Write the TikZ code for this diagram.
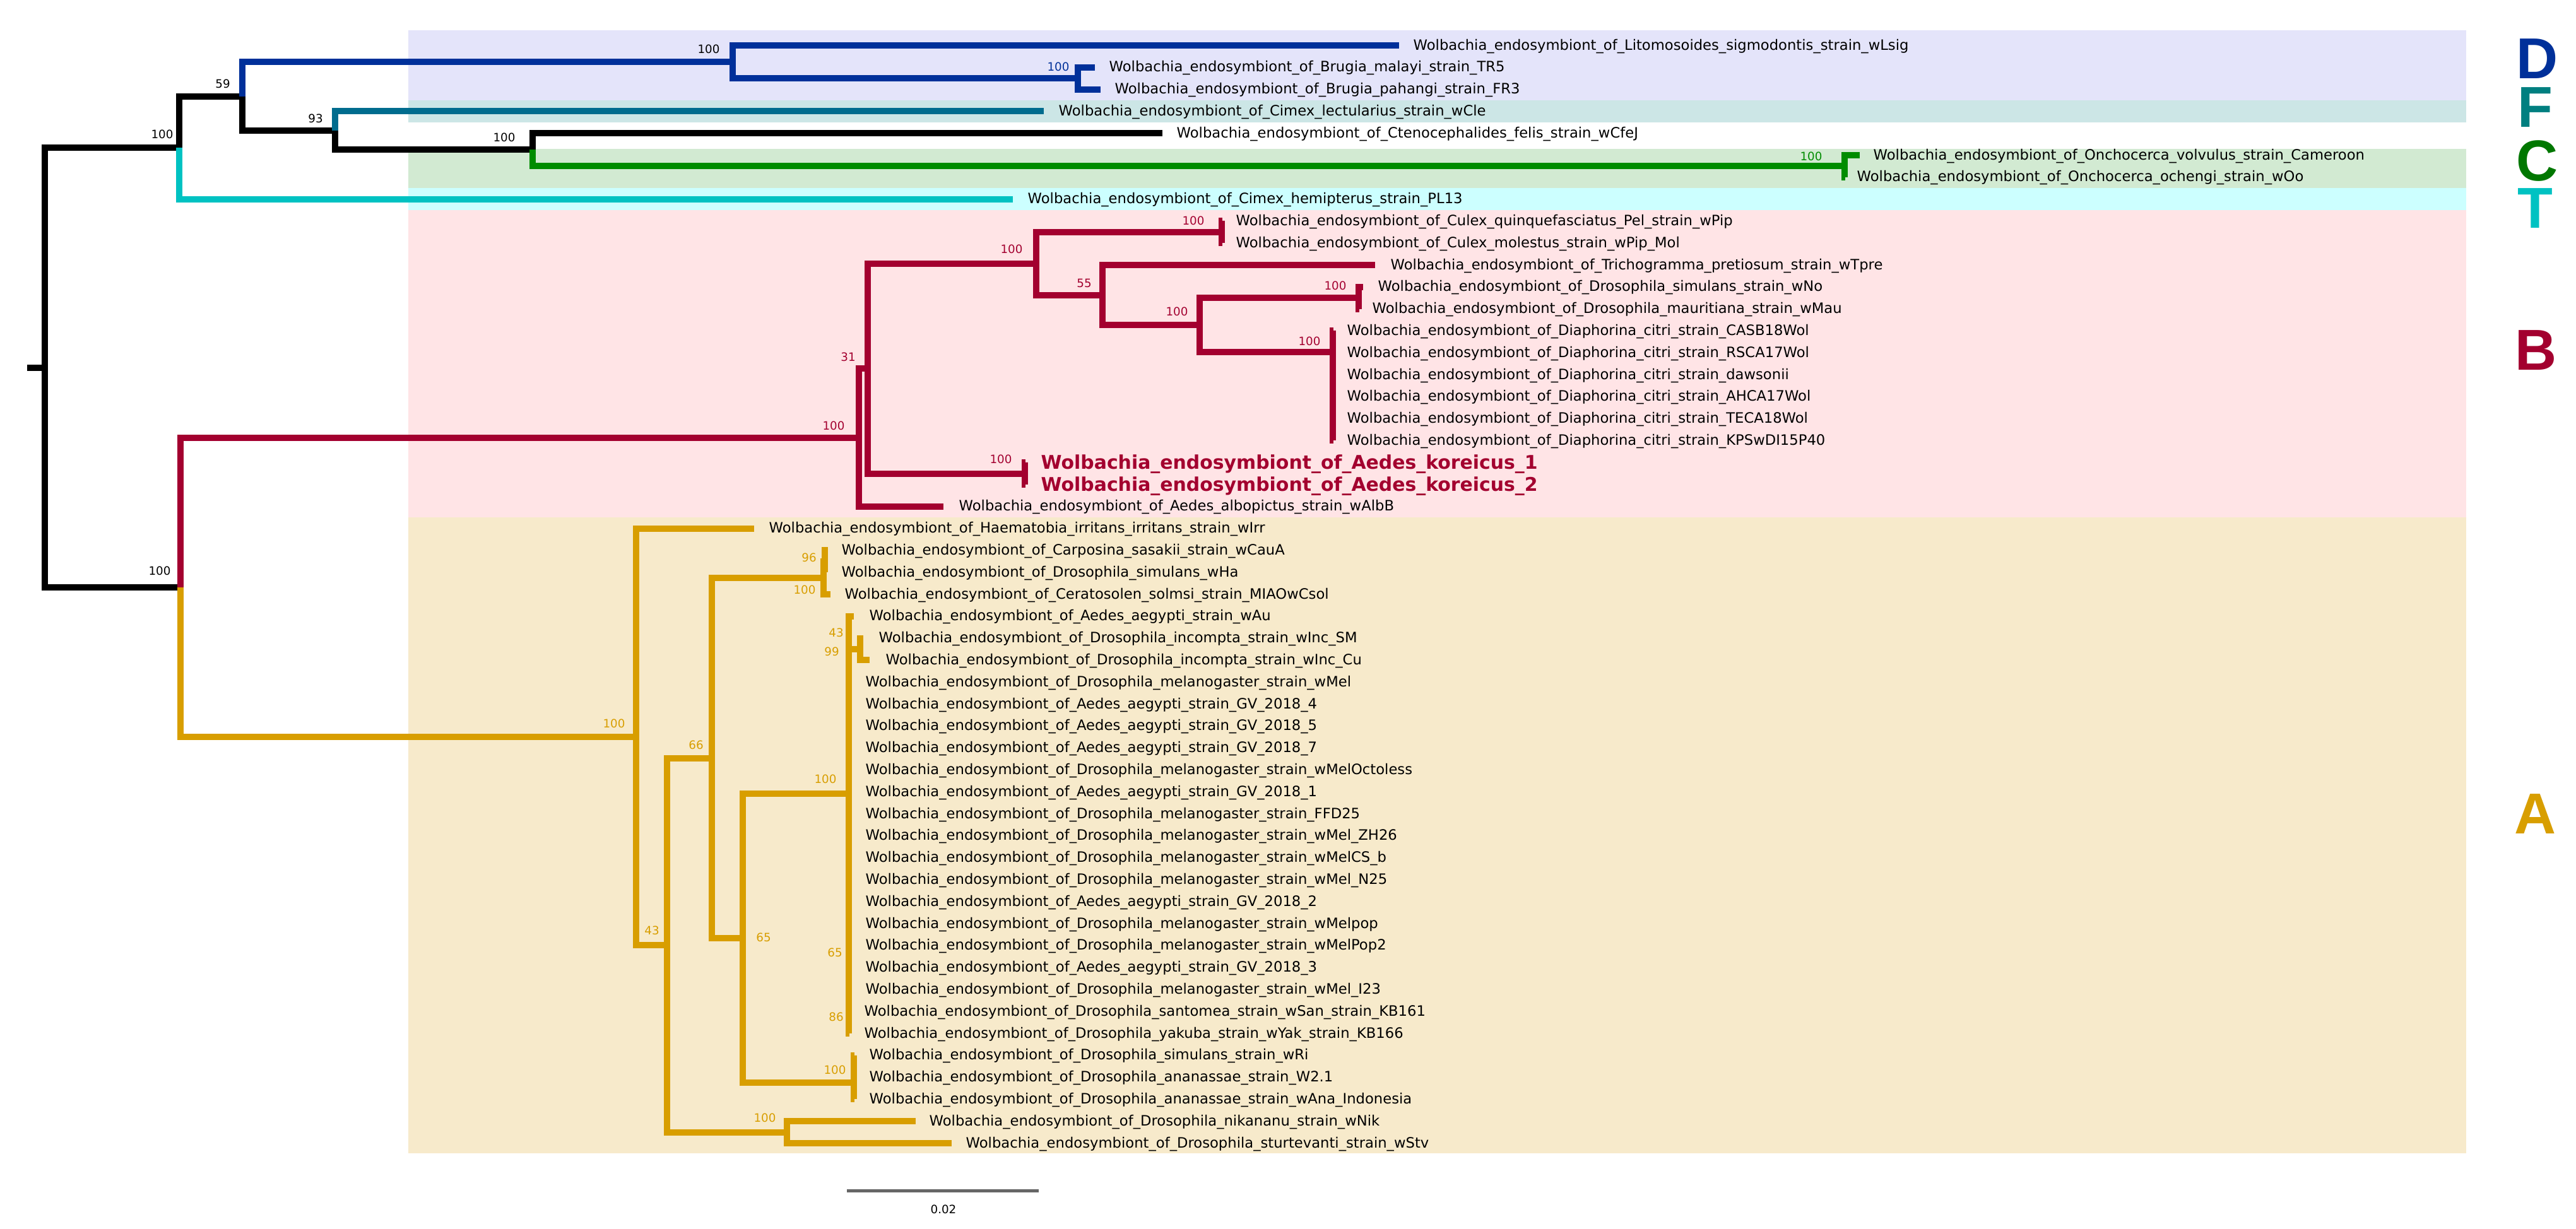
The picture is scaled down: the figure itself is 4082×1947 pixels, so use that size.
\documentclass[tikz,border=0pt]{standalone}
\usepackage{fontspec}
\setmainfont{DejaVu Sans}
\newfontfamily\letterfont{Liberation Sans}
\definecolor{cD}{HTML}{00309A}
\definecolor{cF}{HTML}{006C8E}
\definecolor{cFl}{HTML}{007F80}
\definecolor{cC}{HTML}{008C00}
\definecolor{cCl}{HTML}{007700}
\definecolor{cT}{HTML}{00C2C2}
\definecolor{cB}{HTML}{A3002F}
\definecolor{cA}{HTML}{D89E00}
\definecolor{bgD}{HTML}{E4E4FA}
\definecolor{bgF}{HTML}{CCE6E6}
\definecolor{bgC}{HTML}{D2EAD2}
\definecolor{bgT}{HTML}{CCFFFF}
\definecolor{bgB}{HTML}{FFE4E6}
\definecolor{bgA}{HTML}{F7EACB}
\newcommand\ty[1]{72+34.8*(#1-1)}
\newcommand\wpre{Wolbachia\_endosymbiont\_of\_}
\begin{document}
\begin{tikzpicture}[x=0.01cm,y=-0.01cm,
  br/.style={line width=0.1cm,line join=miter},
  taxon/.style={anchor=base west,inner sep=0pt,font=\fontsize{6.45}{7}\selectfont},
  kor/.style={anchor=base west,inner sep=0pt,font=\fontsize{8.5}{10}\selectfont\bfseries,text=cB},
  bsv/.style={inner sep=0pt,font=\fontsize{5.2}{6}\selectfont},
  clade/.style={inner sep=0pt,font=\letterfont\fontsize{26}{30}\selectfont\bfseries}]
\useasboundingbox (0,0) rectangle (4082,1947);
\fill[white] (0,0) rectangle (4082,1947);
% clade bands
\fill[bgD] (647,48) rectangle (3908,159);
\fill[bgF] (647,159) rectangle (3908,194);
\fill[bgC] (647,236) rectangle (3908,298);
\fill[bgT] (647,298) rectangle (3908,333);
\fill[bgB] (647,333) rectangle (3908,820);
\fill[bgA] (647,820) rectangle (3908,1828);
% internal nodes
\coordinate (rs) at (43,582.5);
\coordinate (root) at (71,582.5);
\coordinate (n1) at (284,234);
\coordinate (n2) at (384,152.5);
\coordinate (nD) at (1161,98.1);
\coordinate (nBru) at (1708,124.2);
\coordinate (n3) at (531,206.9);
\coordinate (n4) at (844,237.3);
\coordinate (nOn) at (2923,263.4);
\coordinate (n5) at (286,930.7);
\coordinate (nB0) at (1361,693.5);
\coordinate (nB1) at (1375,584.1);
\coordinate (nB2) at (1642,417.7);
\coordinate (nCu) at (1936,367.8);
\coordinate (nB3) at (1747,467.5);
\coordinate (nB4) at (1901,515.1);
\coordinate (nNo) at (2153,472.2);
\coordinate (nDia) at (2112,558);
\coordinate (nKo) at (1624,750.6);
\coordinate (nA0) at (1008,1167.8);
\coordinate (nA1) at (1057,1498);
\coordinate (nA2) at (1128,1201.5);
\coordinate (nA3) at (1305,915.9);
\coordinate (nA3b) at (1307,889.8);
\coordinate (nA4) at (1177,1487);
\coordinate (nA5) at (1345,1258);
\coordinate (nInc) at (1363,1029);
\coordinate (nA6) at (1353,1716.3);
\coordinate (nA7) at (1247,1794.6);
% tip ends
\coordinate (e1) at (2217,{\ty{1}});
\coordinate (e2) at (1735,{\ty{2}});
\coordinate (e3) at (1744,{\ty{3}});
\coordinate (e4) at (1654,{\ty{4}});
\coordinate (e5) at (1842,{\ty{5}});
\coordinate (e6) at (2947,{\ty{6}});
\coordinate (e7) at (2924,{\ty{7}});
\coordinate (e8) at (1605,{\ty{8}});
\coordinate (e9) at (1937,{\ty{9}});
\coordinate (e10) at (1937,{\ty{10}});
\coordinate (e11) at (2179,{\ty{11}});
\coordinate (e12) at (2160,{\ty{12}});
\coordinate (e13) at (2154,{\ty{13}});
\coordinate (e14) at (2113,{\ty{14}});
\coordinate (e19) at (2113,{\ty{19}});
\coordinate (e20) at (1625,{\ty{20}});
\coordinate (e21) at (1625,{\ty{21}});
\coordinate (e22) at (1495,{\ty{22}});
\coordinate (e23) at (1195,{\ty{23}});
\coordinate (e24) at (1312,{\ty{24}});
\coordinate (e25) at (1308,{\ty{25}});
\coordinate (e26) at (1316,{\ty{26}});
\coordinate (e27) at (1353,{\ty{27}});
\coordinate (e28) at (1368,{\ty{28}});
\coordinate (e29) at (1378,{\ty{29}});
\coordinate (e46) at (1346,{\ty{46}});
\coordinate (e47) at (1354,{\ty{47}});
\coordinate (e49) at (1354,{\ty{49}});
\coordinate (e50) at (1451,{\ty{50}});
\coordinate (e51) at (1508,{\ty{51}});
% branches: root and top clades
\draw[br] (rs) -- (root);
\draw[br] (root) |- (n1);
\draw[br] (root) |- (n5);
\draw[br] (n1) |- (n2);
\draw[br,cT] (n1) |- (e8);
\draw[br,cD] (n2) |- (nD);
\draw[br] (n2) |- (n3);
\draw[br,cD] (nD) |- (e1);
\draw[br,cD] (nD) |- (nBru);
\draw[br,cD] (nBru) |- (e2);
\draw[br,cD] (nBru) |- (e3);
\draw[br,cF] (n3) |- (e4);
\draw[br] (n3) |- (n4);
\draw[br] (n4) |- (e5);
\draw[br,cC] (n4) |- (nOn);
\draw[br,cC] (nOn) |- (e6);
\draw[br,cC] (nOn) |- (e7);
\draw[br,cB] (n5) |- (nB0);
\draw[br,cA] (n5) |- (nA0);
% B clade
\draw[br,cB] (nB0) |- (nB1);
\draw[br,cB] (nB0) |- (e22);
\draw[br,cB] (nB1) |- (nB2);
\draw[br,cB] (nB1) |- (nKo);
\draw[br,cB] (nB2) |- (nCu);
\draw[br,cB] (nB2) |- (nB3);
\draw[br,cB] (nCu) |- (e9);
\draw[br,cB] (nCu) |- (e10);
\draw[br,cB] (nB3) |- (e11);
\draw[br,cB] (nB3) |- (nB4);
\draw[br,cB] (nB4) |- (nNo);
\draw[br,cB] (nB4) |- (nDia);
\draw[br,cB] (nNo) |- (e12);
\draw[br,cB] (nNo) |- (e13);
\draw[br,cB] (nDia) |- (e14);
\draw[br,cB] (nDia) |- (e19);
\draw[br,cB] (nKo) |- (e20);
\draw[br,cB] (nKo) |- (e21);
% A clade
\draw[br,cA] (nA0) |- (e23);
\draw[br,cA] (nA0) |- (nA1);
\draw[br,cA] (nA1) |- (nA2);
\draw[br,cA] (nA1) |- (nA7);
\draw[br,cA] (nA2) |- (nA3);
\draw[br,cA] (nA2) |- (nA4);
\draw[br,cA] (nA3) |- (nA3b);
\draw[br,cA] (nA3) |- (e26);
\draw[br,cA] (nA3b) |- (e24);
\draw[br,cA] (nA3b) |- (e25);
\draw[br,cA] (nA4) |- (nA5);
\draw[br,cA] (nA4) |- (nA6);
\draw[br,cA] (nA5) |- (e27);
\draw[br,cA] (nA5) |- (nInc);
\draw[br,cA] (nA5) |- (e46);
\draw[br,cA] (nInc) |- (e28);
\draw[br,cA] (nInc) |- (e29);
\draw[br,cA] (nA6) |- (e47);
\draw[br,cA] (nA6) |- (e49);
\draw[br,cA] (nA7) |- (e50);
\draw[br,cA] (nA7) |- (e51);
% tip labels
\node[taxon] (L1) at (2239,{\ty{1}+7}) {\wpre Litomosoides\_sigmodontis\_strain\_wLsig};
\node[taxon] (L2) at (1757,{\ty{2}+7}) {\wpre Brugia\_malayi\_strain\_TR5};
\node[taxon] (L3) at (1766,{\ty{3}+7}) {\wpre Brugia\_pahangi\_strain\_FR3};
\node[taxon] (L4) at (1677,{\ty{4}+7}) {\wpre Cimex\_lectularius\_strain\_wCle};
\node[taxon] (L5) at (1864,{\ty{5}+7}) {\wpre Ctenocephalides\_felis\_strain\_wCfeJ};
\node[taxon] (L6) at (2968,{\ty{6}+7}) {\wpre Onchocerca\_volvulus\_strain\_Cameroon};
\node[taxon] (L7) at (2942,{\ty{7}+7}) {\wpre Onchocerca\_ochengi\_strain\_wOo};
\node[taxon] (L8) at (1628,{\ty{8}+7}) {\wpre Cimex\_hemipterus\_strain\_PL13};
\node[taxon] (L9) at (1958,{\ty{9}+7}) {\wpre Culex\_quinquefasciatus\_Pel\_strain\_wPip};
\node[taxon] (L10) at (1958,{\ty{10}+7}) {\wpre Culex\_molestus\_strain\_wPip\_Mol};
\node[taxon] (L11) at (2203,{\ty{11}+7}) {\wpre Trichogramma\_pretiosum\_strain\_wTpre};
\node[taxon] (L12) at (2183,{\ty{12}+7}) {\wpre Drosophila\_simulans\_strain\_wNo};
\node[taxon] (L13) at (2174,{\ty{13}+7}) {\wpre Drosophila\_mauritiana\_strain\_wMau};
\node[taxon] (L14) at (2134,{\ty{14}+7}) {\wpre Diaphorina\_citri\_strain\_CASB18Wol};
\node[taxon] (L15) at (2134,{\ty{15}+7}) {\wpre Diaphorina\_citri\_strain\_RSCA17Wol};
\node[taxon] (L16) at (2134,{\ty{16}+7}) {\wpre Diaphorina\_citri\_strain\_dawsonii};
\node[taxon] (L17) at (2134,{\ty{17}+7}) {\wpre Diaphorina\_citri\_strain\_AHCA17Wol};
\node[taxon] (L18) at (2134,{\ty{18}+7}) {\wpre Diaphorina\_citri\_strain\_TECA18Wol};
\node[taxon] (L19) at (2134,{\ty{19}+7}) {\wpre Diaphorina\_citri\_strain\_KPSwDI15P40};
\node[kor] (L20) at (1649,{\ty{20}+10}) {\wpre Aedes\_koreicus\_1};
\node[kor] (L21) at (1649,{\ty{21}+10}) {\wpre Aedes\_koreicus\_2};
\node[taxon] (L22) at (1519,{\ty{22}+7}) {\wpre Aedes\_albopictus\_strain\_wAlbB};
\node[taxon] (L23) at (1218,{\ty{23}+7}) {\wpre Haematobia\_irritans\_irritans\_strain\_wIrr};
\node[taxon] (L24) at (1333,{\ty{24}+7}) {\wpre Carposina\_sasakii\_strain\_wCauA};
\node[taxon] (L25) at (1333,{\ty{25}+7}) {\wpre Drosophila\_simulans\_wHa};
\node[taxon] (L26) at (1338,{\ty{26}+7}) {\wpre Ceratosolen\_solmsi\_strain\_MIAOwCsol};
\node[taxon] (L27) at (1377,{\ty{27}+7}) {\wpre Aedes\_aegypti\_strain\_wAu};
\node[taxon] (L28) at (1392,{\ty{28}+7}) {\wpre Drosophila\_incompta\_strain\_wInc\_SM};
\node[taxon] (L29) at (1403,{\ty{29}+7}) {\wpre Drosophila\_incompta\_strain\_wInc\_Cu};
\node[taxon] (L30) at (1371,{\ty{30}+7}) {\wpre Drosophila\_melanogaster\_strain\_wMel};
\node[taxon] (L31) at (1371,{\ty{31}+7}) {\wpre Aedes\_aegypti\_strain\_GV\_2018\_4};
\node[taxon] (L32) at (1371,{\ty{32}+7}) {\wpre Aedes\_aegypti\_strain\_GV\_2018\_5};
\node[taxon] (L33) at (1371,{\ty{33}+7}) {\wpre Aedes\_aegypti\_strain\_GV\_2018\_7};
\node[taxon] (L34) at (1371,{\ty{34}+7}) {\wpre Drosophila\_melanogaster\_strain\_wMelOctoless};
\node[taxon] (L35) at (1371,{\ty{35}+7}) {\wpre Aedes\_aegypti\_strain\_GV\_2018\_1};
\node[taxon] (L36) at (1371,{\ty{36}+7}) {\wpre Drosophila\_melanogaster\_strain\_FFD25};
\node[taxon] (L37) at (1371,{\ty{37}+7}) {\wpre Drosophila\_melanogaster\_strain\_wMel\_ZH26};
\node[taxon] (L38) at (1371,{\ty{38}+7}) {\wpre Drosophila\_melanogaster\_strain\_wMelCS\_b};
\node[taxon] (L39) at (1371,{\ty{39}+7}) {\wpre Drosophila\_melanogaster\_strain\_wMel\_N25};
\node[taxon] (L40) at (1371,{\ty{40}+7}) {\wpre Aedes\_aegypti\_strain\_GV\_2018\_2};
\node[taxon] (L41) at (1371,{\ty{41}+7}) {\wpre Drosophila\_melanogaster\_strain\_wMelpop};
\node[taxon] (L42) at (1371,{\ty{42}+7}) {\wpre Drosophila\_melanogaster\_strain\_wMelPop2};
\node[taxon] (L43) at (1371,{\ty{43}+7}) {\wpre Aedes\_aegypti\_strain\_GV\_2018\_3};
\node[taxon] (L44) at (1371,{\ty{44}+7}) {\wpre Drosophila\_melanogaster\_strain\_wMel\_I23};
\node[taxon] (L45) at (1369,{\ty{45}+7}) {\wpre Drosophila\_santomea\_strain\_wSan\_strain\_KB161};
\node[taxon] (L46) at (1369,{\ty{46}+7}) {\wpre Drosophila\_yakuba\_strain\_wYak\_strain\_KB166};
\node[taxon] (L47) at (1377,{\ty{47}+7}) {\wpre Drosophila\_simulans\_strain\_wRi};
\node[taxon] (L48) at (1377,{\ty{48}+7}) {\wpre Drosophila\_ananassae\_strain\_W2.1};
\node[taxon] (L49) at (1377,{\ty{49}+7}) {\wpre Drosophila\_ananassae\_strain\_wAna\_Indonesia};
\node[taxon] (L50) at (1472,{\ty{50}+7}) {\wpre Drosophila\_nikananu\_strain\_wNik};
\node[taxon] (L51) at (1530,{\ty{51}+7}) {\wpre Drosophila\_sturtevanti\_strain\_wStv};
% support values
\node[bsv] (S1) at (257,213) {100};
\node[bsv] (S2) at (353,133) {59};
\node[bsv] (S3) at (500,188) {93};
\node[bsv] (S4) at (799,218) {100};
\node[bsv] (S5) at (1123,78) {100};
\node[bsv,text=cD] (S6) at (1677,106) {100};
\node[bsv,text=cC] (S7) at (2870,248) {100};
\node[bsv] (S8) at (253,905) {100};
\node[bsv,text=cB] (S9) at (1321,675) {100};
\node[bsv,text=cB] (S10) at (1344,566) {31};
\node[bsv,text=cB] (S11) at (1603,395) {100};
\node[bsv,text=cB] (S12) at (1891,350) {100};
\node[bsv,text=cB] (S13) at (1718,449) {55};
\node[bsv,text=cB] (S14) at (1865,494) {100};
\node[bsv,text=cB] (S15) at (2116,453) {100};
\node[bsv,text=cB] (S16) at (2075,541) {100};
\node[bsv,text=cB] (S17) at (1586,728) {100};
\node[bsv,text=cA] (S18) at (973,1147) {100};
\node[bsv,text=cA] (S19) at (1282,884) {96};
\node[bsv,text=cA] (S20) at (1275,935) {100};
\node[bsv,text=cA] (S21) at (1103,1181) {66};
\node[bsv,text=cA] (S22) at (1325,1003) {43};
\node[bsv,text=cA] (S23) at (1318,1033) {99};
\node[bsv,text=cA] (S24) at (1308,1235) {100};
\node[bsv,text=cA] (S25) at (1033,1475) {43};
\node[bsv,text=cA] (S26) at (1210,1486) {65};
\node[bsv,text=cA] (S27) at (1323,1510) {65};
\node[bsv,text=cA] (S28) at (1325,1612) {86};
\node[bsv,text=cA] (S29) at (1323,1696) {100};
\node[bsv,text=cA] (S30) at (1212,1772) {100};
% clade letters
\node[clade,text=cD] (KD) at (4020,93) {D};
\node[clade,text=cFl] (KF) at (4017,170) {F};
\node[clade,text=cCl] (KC) at (4020,255) {C};
\node[clade,text=cT] (KT) at (4017,330) {T};
\node[clade,text=cB] (KB) at (4018,555) {B};
\node[clade,text=cA] (KA) at (4017,1290) {A};
% scale bar
\coordinate (sbL) at (1342,1887);
\coordinate (sbR) at (1646,1887);
\draw[line width=0.05cm,black!60] (sbL) -- (sbR);
\node[bsv] (sbT) at (1495,1917) {0.02};
\end{tikzpicture}
\end{document}
